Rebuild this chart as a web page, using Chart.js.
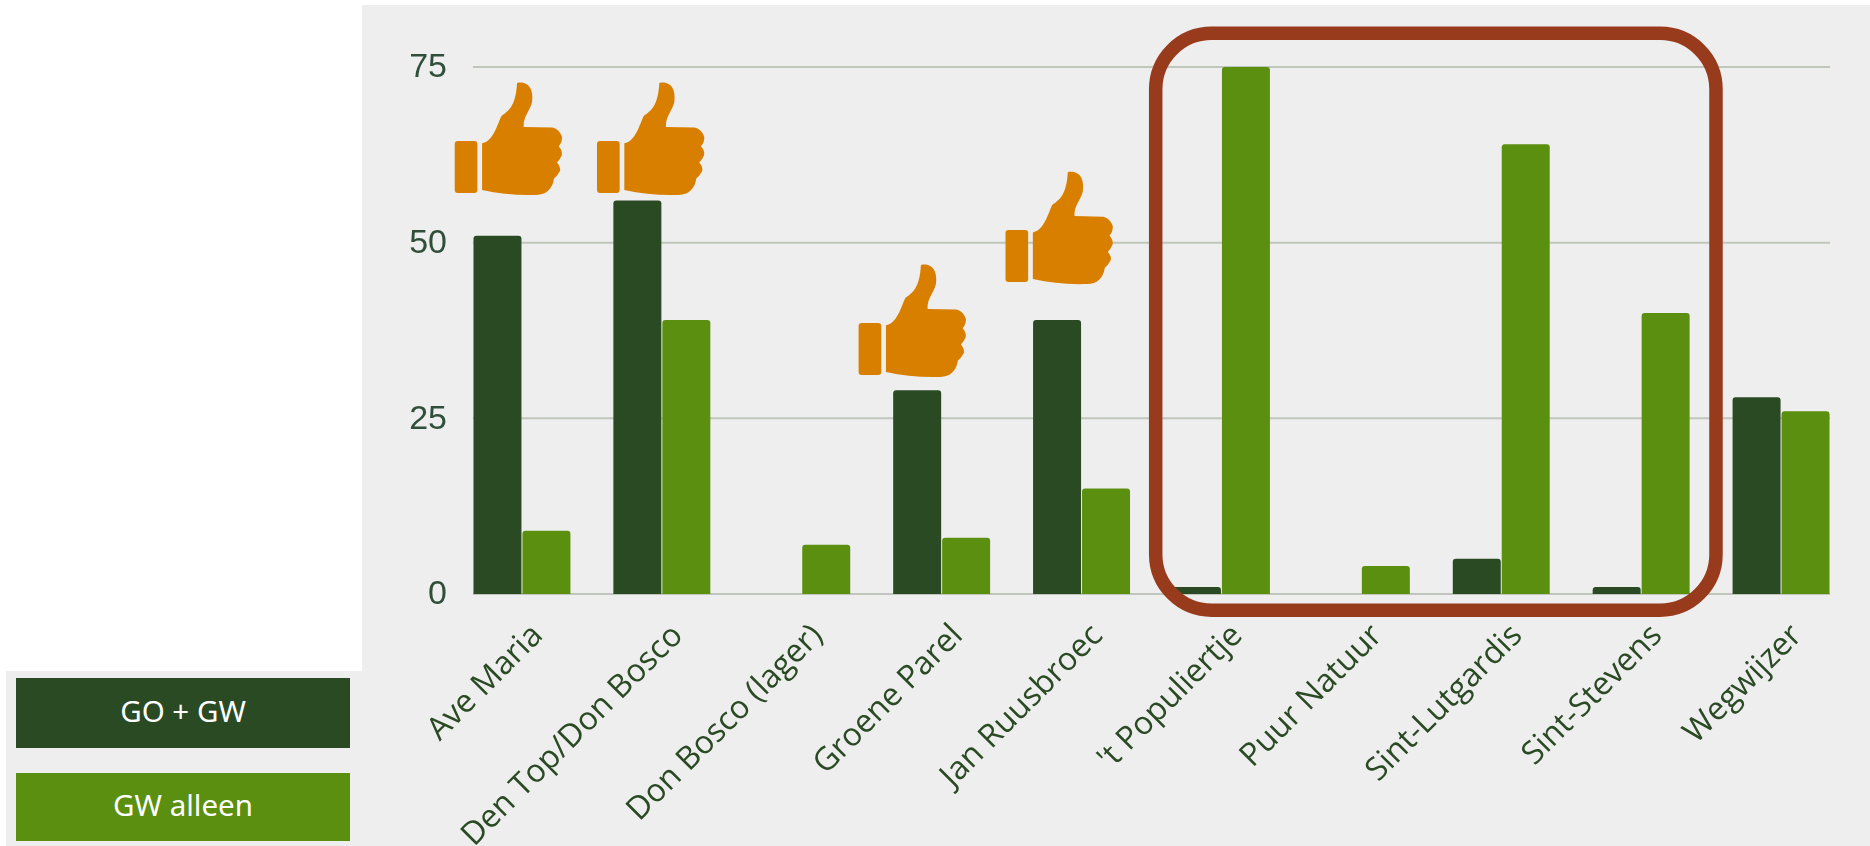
<!DOCTYPE html>
<html>
<head>
<meta charset="utf-8">
<script src="https://cdn.jsdelivr.net/npm/chart.js@4"></script>
<style>
html,body{margin:0;padding:0;background:#fff;width:1870px;height:846px;overflow:hidden}
#panel{position:absolute;left:362px;top:5px;right:0;bottom:0;background:#eeeeee}
#legendPanel{position:absolute;left:6px;top:671px;width:356px;height:175px;background:#eeeeee}
.key{position:absolute;left:16px;width:334px;color:#fff;text-align:center;font-family:"Noto Sans",sans-serif;font-size:29.5px}
#key0{top:678px;height:70px;line-height:66px}
#key1{top:773px;height:68px;line-height:64px}
canvas{position:absolute;left:0;top:0}
</style>
</head>
<body>
<div id="panel"></div>
<div id="legendPanel"></div>
<div id="key0" class="key"></div>
<div id="key1" class="key"></div>
<canvas id="c" width="1870" height="846"></canvas>
<script>
const categories = ["Ave Maria","Den Top/Don Bosco","Don Bosco (lager)","Groene Parel","Jan Ruusbroec","'t Populiertje","Puur Natuur","Sint-Lutgardis","Sint-Stevens","Wegwijzer"];
const seriesNames = ["GO + GW","GW alleen"];
const goGw = [51,56,0,29,39,1,0,5,1,28];
const gwAlleen = [9,39,7,8,15,75,4,64,40,26];
const yTicks = [0,25,50,75];
const colors = ["#2a4a24","#5a8f0f"];
const thumbCategory = [-0.097,0.92,2.79,3.84];
const thumbValue = [56.8,56.8,30.9,44.1];
const frameCategory = [4.53,8.535];
const frameValue = [79.8,-2.3];

document.getElementById('key0').textContent = seriesNames[0];
document.getElementById('key1').textContent = seriesNames[1];
document.getElementById('key0').style.background = colors[0];
document.getElementById('key1').style.background = colors[1];

const gridPlugin = {
  id:'grid',
  beforeDatasetsDraw(chart){
    const {ctx,scales:{x,y}} = chart;
    const start = x.getPixelForValue(0)-49;
    const end = x.getPixelForValue(categories.length-1)+49;
    ctx.save();
    ctx.strokeStyle='#bfc7bc';ctx.lineWidth=2;
    yTicks.forEach(v=>{
      const p=y.getPixelForValue(v);
      ctx.beginPath();ctx.moveTo(start,p);ctx.lineTo(end,p);ctx.stroke();
    });
    ctx.restore();
  }
};
const thumb = new Path2D();
thumb.roundRect(285,424,68,156,9);
thumb.moveTo(367,431);
thumb.bezierCurveTo(400,426,413,375,425,349);
thumb.bezierCurveTo(445,334,468,322,472,250);
thumb.bezierCurveTo(510,243,522,275,517,308);
thumb.bezierCurveTo(510,335,490,352,492,382);
thumb.lineTo(578,384);
thumb.bezierCurveTo(592,386,604,400,607,413);
thumb.quadraticCurveTo(607,430,597,440);
thumb.quadraticCurveTo(610,455,606,468);
thumb.quadraticCurveTo(601,480,592,489);
thumb.quadraticCurveTo(605,505,600,516);
thumb.quadraticCurveTo(592,530,583,537);
thumb.bezierCurveTo(578,568,560,586,530,586);
thumb.bezierCurveTo(470,588,420,582,367,571);
thumb.closePath();

const overlayPlugin = {
  id:'overlay',
  afterDatasetsDraw(chart){
    const {ctx,scales:{x,y}} = chart;
    ctx.save();
    ctx.fillStyle='#d97f00';
    thumbCategory.forEach((c,i)=>{
      const cx=x.getPixelForValue(c), by=y.getPixelForValue(thumbValue[i]);
      ctx.save();
      ctx.translate(cx,by);
      ctx.scale(1/3,1/3);
      ctx.translate(-446,-586);
      ctx.fill(thumb);
      ctx.restore();
    });
    const l=x.getPixelForValue(frameCategory[0]), r=x.getPixelForValue(frameCategory[1]);
    const t=y.getPixelForValue(frameValue[0]), b=y.getPixelForValue(frameValue[1]);
    ctx.strokeStyle='#983b1c';ctx.lineWidth=13.5;
    ctx.beginPath();ctx.roundRect(l,t,r-l,b-t,56);ctx.stroke();
    ctx.restore();
  }
};

new Chart(document.getElementById('c'),{
  type:'bar',
  data:{labels:categories,datasets:[
    {label:seriesNames[0],data:goGw,backgroundColor:colors[0]},
    {label:seriesNames[1],data:gwAlleen,backgroundColor:colors[1]}
  ]},
  options:{
    responsive:false,animation:false,
    layout:{autoPadding:false,padding:{left:0,right:19,top:67,bottom:0}},
    plugins:{legend:{display:false},tooltip:{enabled:false},title:{display:false}},
    datasets:{bar:{categoryPercentage:0.7,barPercentage:0.98,borderRadius:{topLeft:3,topRight:3,bottomLeft:0,bottomRight:0},borderSkipped:false}},
    scales:{
      x:{
        grid:{display:false},border:{display:false},
        afterFit(s){s.height=252;},
        ticks:{autoSkip:false,minRotation:45,maxRotation:45,padding:15,labelOffset:16,color:'#2a4a24',
          font:{family:'"Open Sans"',size:32}}
      },
      y:{
        min:0,max:75,
        grid:{display:false},border:{display:false},
        afterFit(s){s.width=452;},
        afterBuildTicks(s){s.ticks=yTicks.map(v=>({value:v}));},
        ticks:{padding:-3,labelOffset:1,color:'#2f4f3a',font:{family:'"Liberation Sans"',size:34}}
      }
    }
  },
  plugins:[gridPlugin,overlayPlugin]
});
</script>
</body>
</html>
